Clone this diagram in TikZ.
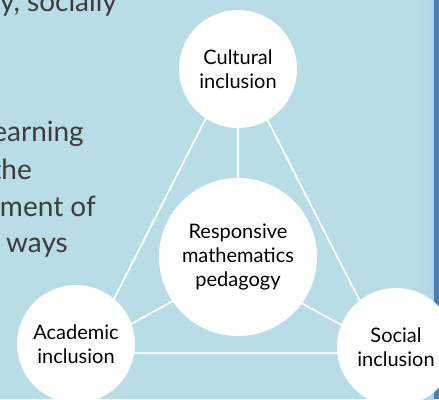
\documentclass[tikz,border=0pt]{standalone}
\usepackage{fontspec}
\setmainfont{Lato}
\definecolor{slidebg}{HTML}{B8DDE6}
\definecolor{slideedge}{HTML}{B0D6E8}
\definecolor{slidebar}{HTML}{4A7EBB}
\definecolor{slidetext}{HTML}{3C3C3C}
\tikzset{
  incl/.style={
      circle,
      fill=white,
      minimum size=118pt,
      inner sep=0pt,
      align=center,
      font=\fontsize{20}{24}\selectfont,
  },
  hub/.style={incl, minimum size=158pt},
  link/.style={draw=white, line width=1.8pt},
  slidetxt/.style={
      anchor=base east,
      inner sep=0pt,
      text=slidetext,
      font=\fontsize{28}{32}\selectfont,
  }
}
\begin{document}
\begin{tikzpicture}[x=1pt,y=-1pt]
    \useasboundingbox (0,0) rectangle (439,399);
    \clip (0,0) rectangle (439,399);
    \fill[slidebg] (0,0) rectangle (439,399);
    \shade[left color=slidebg, right color=slideedge] (417,0) rectangle (434,399);
    \fill[slidebar] (434,0) rectangle (439,399);

    % text of the slide, cut off on the left
    \node[slidetxt] (t1) at (117,11) {y, socially};
    \node[slidetxt] (t2) at (84,141) {earning};
    \node[slidetxt] (t3) at (32,179) {the};
    \node[slidetxt] (t4) at (96,216) {ment of};
    \node[slidetxt] (t5) at (68,252) {ways};

    % the four circles
    \node[incl] (cult) at (238,69) {Cultural\\inclusion};
    \node[hub] (resp) at (238,257) {Responsive\\mathematics\\pedagogy};
    \node[incl] (acad) at (76,344) {Academic\\inclusion};
    \node[incl] (soc) at (396,347) {Social\\inclusion};

    % links
    \draw[link] (cult.237) -- (acad.50);
    \draw[link] (cult.300) -- (soc.128);
    \draw[link] (cult.south) -- (resp.north);
    \draw[link] (resp.214) -- (acad.20);
    \draw[link] (resp.324) -- (soc.158);
    \draw[link] (acad.-9) -- (soc.186);
\end{tikzpicture}
\end{document}
